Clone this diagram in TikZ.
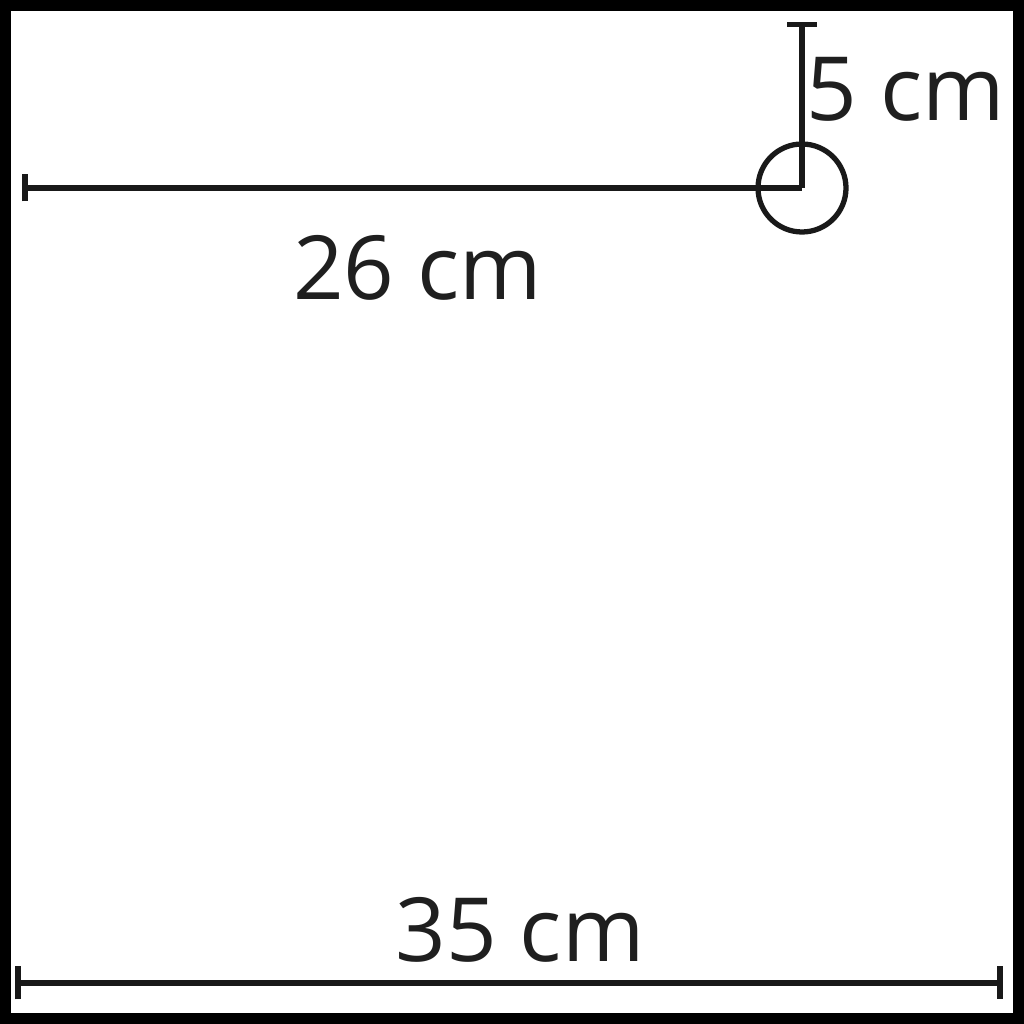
\documentclass[tikz,border=0pt]{standalone}
\usepackage{fontspec}
\setmainfont{Open Sans}
\usetikzlibrary{positioning,arrows.meta}

\begin{document}
\begin{tikzpicture}[
  dimline/.style={line width=1.5pt,black!90},
  mylabel/.style={inner sep=0pt,text=black!88,font=\fontsize{25.2}{30}\selectfont},
  wheel/.style={draw=black!90,circle,line width=1.5pt,minimum size=0.88cm,inner sep=0pt}
]
\useasboundingbox (0,0) rectangle (10.24,10.24);
\draw[line width=0.11cm] (0.055,0.055) rectangle (10.185,10.185);
\node[wheel] (W) at (8.02,8.36) {};
\coordinate (L) at (0.22,8.36);
\coordinate (T) at (8.02,10.02);
\coordinate (BL) at (0.15,0.41);
\coordinate (BR) at (10.03,0.41);
\node[mylabel] (A) at (9.06,9.345) {5 cm};
\node[mylabel] (B) at (4.175,7.565) {26 cm};
\node[mylabel] (C) at (5.2,0.94) {35 cm};
\draw[dimline,{Bar[width=2.7mm,line width=1.8pt]}-] (L) -- (W.center);
\draw[dimline,{Bar[width=3mm]}-] (T) -- (W.center);
\draw[dimline,{Bar[width=3.3mm,line width=1.8pt]}-{Bar[width=3.3mm,line width=1.8pt]}] (BL) -- (BR);
\end{tikzpicture}
\end{document}
